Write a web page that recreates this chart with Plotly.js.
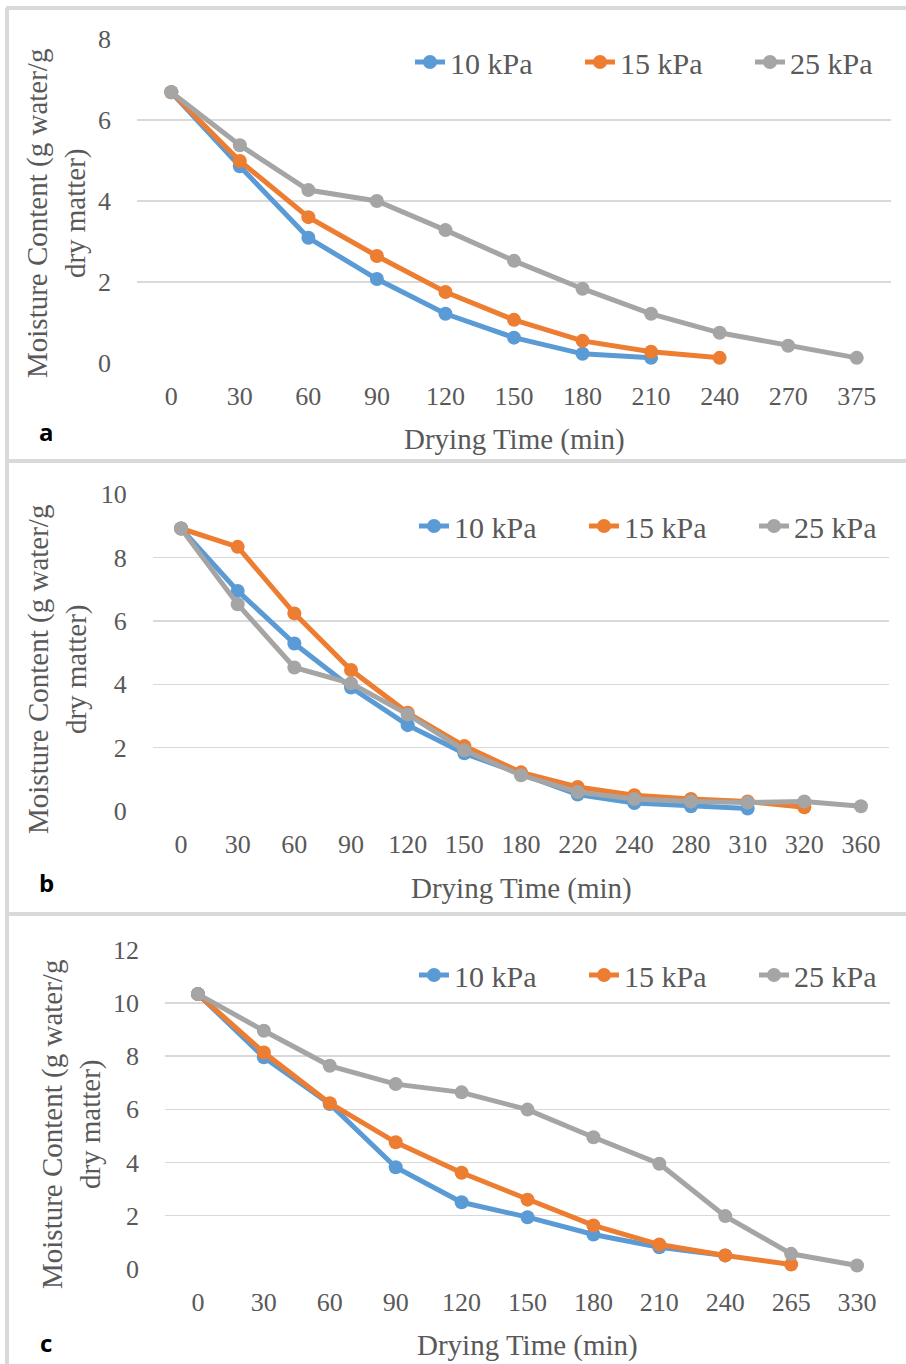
<!DOCTYPE html>
<html>
<head>
<meta charset="utf-8">
<script src="https://cdn.plot.ly/plotly-3.0.1.min.js"></script>
<style>html,body{margin:0;padding:0;background:#fff;overflow:hidden;}#chart{width:906px;height:1364px;}</style>
</head>
<body>
<div id="chart"></div>
<script>
// ---------- DATA ----------
const seriesNames = ['10 kPa', '15 kPa', '25 kPa'];

const catsA = ['0','30','60','90','120','150','180','210','240','270','375'];
const a10 = [6.69, 4.86, 3.09, 2.07, 1.21, 0.62, 0.22, 0.12];
const a15 = [6.69, 4.99, 3.60, 2.64, 1.75, 1.06, 0.54, 0.27, 0.12];
const a25 = [6.69, 5.38, 4.27, 4.00, 3.28, 2.52, 1.83, 1.21, 0.74, 0.42, 0.12];

const catsB = ['0','30','60','90','120','150','180','220','240','280','310','320','360'];
const b10 = [8.92, 6.95, 5.29, 3.90, 2.71, 1.82, 1.17, 0.52, 0.25, 0.15, 0.08];
const b15 = [8.92, 8.34, 6.24, 4.45, 3.10, 2.05, 1.22, 0.76, 0.50, 0.38, 0.30, 0.12];
const b25 = [8.92, 6.53, 4.53, 4.03, 3.05, 1.92, 1.13, 0.60, 0.38, 0.30, 0.27, 0.30, 0.15];

const catsC = ['0','30','60','90','120','150','180','210','240','265','330'];
const c10 = [10.34, 7.96, 6.20, 3.82, 2.50, 1.94, 1.29, 0.81, 0.50];
const c15 = [10.34, 8.14, 6.23, 4.76, 3.61, 2.60, 1.63, 0.91, 0.50, 0.16];
const c25 = [10.34, 8.96, 7.64, 6.95, 6.64, 5.99, 4.95, 3.95, 1.98, 0.56, 0.12];

const yMaxA = 8, yMaxB = 10, yMaxC = 12;
const panelLabels = ['a', 'b', 'c'];
const xTitle = 'Drying Time (min)';
const yTitle = 'Moisture Content (g water/g<br>dry matter)';

// ---------- STYLE / LAYOUT ----------
const W = 906, H = 1364;
const colors = ['#5B9BD5', '#ED7D31', '#A5A5A5'];
const textColor = '#595959';
const serif = 'Liberation Serif, Times New Roman, serif';
const px = v => v / W;
const py = v => 1 - v / H;

const panels = [
  {cats: catsA, ser: [a10, a15, a25], ymax: yMaxA, dtick: 2,
   x0: 137, x1: 891, yTop: 39.3, yBot: 362.7,
   legY: 62, legX: 410, ytX: 57, ytY: 214, xtY: 440, labY: 432},
  {cats: catsB, ser: [b10, b15, b25], ymax: yMaxB, dtick: 2,
   x0: 152.7, x1: 889.3, yTop: 494.3, yBot: 811,
   legY: 526, legX: 414, ytX: 57, ytY: 670, xtY: 888, labY: 882},
  {cats: catsC, ser: [c10, c15, c25], ymax: yMaxC, dtick: 2,
   x0: 165, x1: 890, yTop: 950, yBot: 1268.7,
   legY: 975, legX: 414, ytX: 71, ytY: 1125, xtY: 1345, labY: 1342}
];

const traces = [];
const layout = {
  width: W, height: H,
  margin: {l: 0, r: 0, t: 0, b: 0, autoexpand: false},
  paper_bgcolor: '#ffffff',
  plot_bgcolor: 'rgba(0,0,0,0)',
  showlegend: true,
  font: {family: serif, color: textColor, size: 26},
  annotations: [],
  shapes: []
};

panels.forEach((p, i) => {
  const sfx = i === 0 ? '' : String(i + 1);
  const legName = 'legend' + sfx;
  p.ser.forEach((vals, k) => {
    traces.push({
      type: 'scatter', mode: 'lines+markers',
      name: seriesNames[k],
      x: p.cats.slice(0, vals.length),
      y: vals,
      xaxis: 'x' + sfx, yaxis: 'y' + sfx,
      legend: legName,
      line: {color: colors[k], width: 5},
      marker: {color: colors[k], size: 14},
      cliponaxis: false,
      hoverinfo: 'x+y+name'
    });
  });
  layout['xaxis' + sfx] = {
    domain: [px(p.x0), px(p.x1)],
    anchor: 'y' + sfx,
    type: 'category',
    categoryorder: 'array', categoryarray: p.cats,
    range: [-0.5, p.cats.length - 0.5],
    showgrid: false, zeroline: false, showline: false,
    ticks: '', ticklabelstandoff: 15,
    tickfont: {family: serif, size: 26, color: textColor},
    automargin: false,
    fixedrange: true
  };
  layout['yaxis' + sfx] = {
    domain: [py(p.yBot), py(p.yTop)],
    anchor: 'x' + sfx,
    range: [0, p.ymax], dtick: p.dtick, tick0: 0,
    showgrid: true, gridcolor: '#D9D9D9', gridwidth: 1.5,
    zeroline: false, showline: false,
    ticks: '', ticklabelstandoff: 25,
    tickfont: {family: serif, size: 26, color: textColor},
    automargin: false,
    fixedrange: true
  };
  layout[legName] = {
    orientation: 'h',
    x: px(p.legX), xanchor: 'left',
    y: py(p.legY), yanchor: 'middle',
    bgcolor: 'rgba(0,0,0,0)', borderwidth: 0,
    font: {family: serif, size: 30, color: textColor},
    entrywidth: 125, entrywidthmode: 'pixels',
    itemclick: false, itemdoubleclick: false
  };
  // x-axis title
  layout.annotations.push({
    xref: 'paper', yref: 'paper',
    x: px((p.x0 + p.x1) / 2), y: py(p.xtY),
    xanchor: 'center', yanchor: 'middle',
    text: xTitle, showarrow: false,
    font: {family: serif, size: 29, color: textColor}
  });
  // y-axis title
  layout.annotations.push({
    xref: 'paper', yref: 'paper',
    x: px(p.ytX), y: py(p.ytY),
    xanchor: 'center', yanchor: 'middle',
    text: yTitle, showarrow: false, textangle: -90,
    font: {family: serif, size: 29, color: textColor}
  });
  // panel label
  layout.annotations.push({
    xref: 'paper', yref: 'paper',
    x: px(46), y: py(p.labY),
    xanchor: 'center', yanchor: 'middle',
    text: '<b>' + panelLabels[i] + '</b>', showarrow: false,
    font: {family: 'Open Sans, Liberation Sans, sans-serif', size: 24, color: '#000000'}
  });
});

// panel borders
const borderColor = '#D9D9D9';
[8, 461, 914].forEach(yy => {
  layout.shapes.push({type: 'line', xref: 'paper', yref: 'paper',
    x0: px(6), x1: 1, y0: py(yy), y1: py(yy),
    line: {color: borderColor, width: 4}});
});
layout.shapes.push({type: 'line', xref: 'paper', yref: 'paper',
  x0: px(7), x1: px(7), y0: py(8), y1: 0,
  line: {color: borderColor, width: 4}});

Plotly.newPlot('chart', traces, layout, {displayModeBar: false, staticPlot: true});
</script>
</body>
</html>
